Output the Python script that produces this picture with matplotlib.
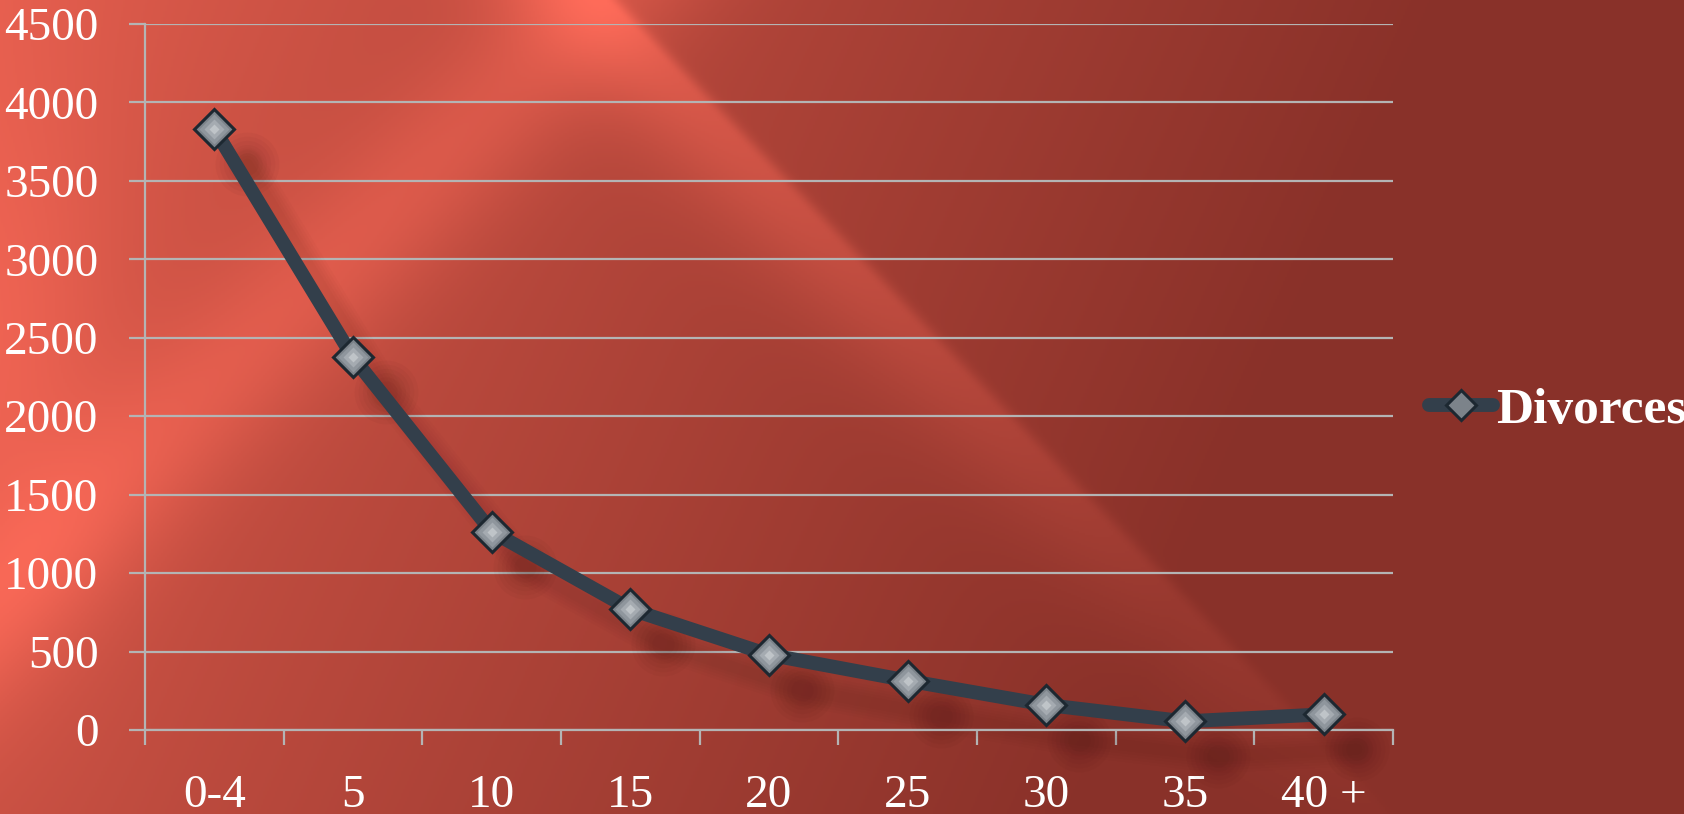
import numpy as np
import matplotlib
matplotlib.use("Agg")
import matplotlib.pyplot as plt
from matplotlib.transforms import ScaledTranslation

# Divorces by duration of marriage (years)
years = ["0-4", "5", "10", "15", "20", "25", "30", "35", "40 +"]
divorces = [3830, 2375, 1265, 770, 480, 315, 160, 55, 100]
y_ticks = [0, 500, 1000, 1500, 2000, 2500, 3000, 3500, 4000, 4500]

GRID = "#b4b4b4"
LINE = "#333f4b"

plt.rcParams["font.family"] = ["Liberation Serif", "DejaVu Serif"]

fig = plt.figure(figsize=(16.84, 8.14), dpi=100)

# red backdrop with diagonal light streaks
W, H = 1684, 814
xx, yy = np.meshgrid(np.linspace(0, W, 842), np.linspace(0, H, 407))
t = np.clip((xx + 0.45 * yy) / 1450, 0, 1) ** 0.85
light = np.array([228, 94, 78], dtype=float)
dark = np.array([137, 49, 41], dtype=float)
img = light + (dark - light) * t[..., None]
# streak running down to the lower left
band1 = np.exp(-(((xx + yy - 600) / np.sqrt(2)) / 75) ** 2)
# streak running down to the right, crisp on its right edge
d2 = 0.724 * (xx - 606) - 0.689 * yy
band2 = np.where(d2 < 0, np.exp(-(d2 / 75) ** 2), np.exp(-(d2 / 10) ** 2))
band2 = band2 * np.clip(1 - yy / 850, 0, 1) ** 0.8
glow = np.exp(-(xx / 120) ** 2) * np.exp(-((yy - 380) / 280) ** 2)
lift = band1 * 28 + band2 * 42 + glow * 24
img = img + lift[..., None] * np.array([1.0, 0.5, 0.42])
img = np.clip(img, 0, 255).astype(np.uint8)

bg = fig.add_axes([0, 0, 1, 1], zorder=0)
bg.imshow(img, aspect="auto", interpolation="bilinear")
bg.axis("off")

ax = fig.add_axes([0.0861, 0.1032, 0.7411, 0.8673], zorder=1)
ax.patch.set_alpha(0)
x = np.arange(len(years))

# soft drop shadow below the series
shift = ax.transData + ScaledTranslation(0.33, -0.35, fig.dpi_scale_trans)
for lw in [24, 20, 16, 12, 8]:
    ax.plot(x, divorces, color="#2a0a08", lw=lw, alpha=0.018, transform=shift,
            solid_capstyle="round", solid_joinstyle="round", clip_on=False, zorder=2)
for ms in [46, 40, 34, 28, 22, 16]:
    ax.plot(x, divorces, "o", ms=ms, color="#2a0a08", alpha=0.03, mec="none",
            transform=shift, clip_on=False, zorder=2)

# main series with shaded diamond markers
ax.plot(x, divorces, color=LINE, lw=10, marker="D", ms=20, mfc="#7c838a",
        mec="#1d2831", mew=2.2, solid_capstyle="round", solid_joinstyle="round",
        clip_on=False, zorder=3, label="Divorces")
for ms, fc in [(15, "#8f969d"), (10, "#a5abb1"), (5, "#bfc4c8")]:
    ax.plot(x, divorces, "D", ms=ms, mfc=fc, mec="none", clip_on=False, zorder=4)

ax.set_xlim(-0.5, len(years) - 0.5)
ax.set_ylim(0, 4500)
ax.set_yticks(y_ticks)
ax.set_yticklabels([str(v) for v in y_ticks])
ax.yaxis.grid(True, color=GRID, lw=1.6)
ax.set_axisbelow(True)
ax.tick_params(axis="y", length=11.5, width=1.6, color=GRID, pad=22,
               labelsize=34, labelcolor="white")

ax.set_xticks(x)
ax.set_xticklabels(years)
ax.set_xticks(np.arange(-0.5, len(years)), minor=True)
ax.tick_params(axis="x", which="major", length=0, pad=32,
               labelsize=34, labelcolor="white")
ax.tick_params(axis="x", which="minor", length=10.5, width=1.6, color=GRID)

for side in ["top", "right"]:
    ax.spines[side].set_visible(False)
for side in ["left", "bottom"]:
    ax.spines[side].set_color(GRID)
    ax.spines[side].set_linewidth(1.6)

ax.legend(loc="center left", bbox_to_anchor=(0.8486, 0.496),
          bbox_transform=fig.transFigure, frameon=False, borderpad=0,
          borderaxespad=0, handlelength=1.25, handletextpad=0.05,
          markerscale=0.75, labelcolor="white",
          prop={"size": 37, "weight": "bold"})

fig.savefig("out.png", dpi=100)
